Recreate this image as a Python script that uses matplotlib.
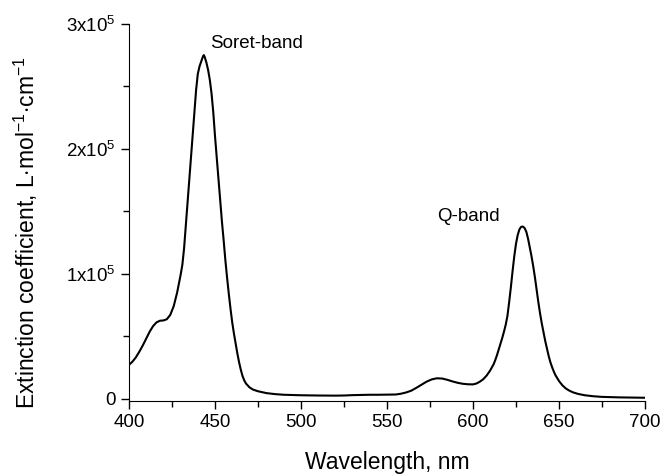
import matplotlib
matplotlib.use("Agg")
import matplotlib.pyplot as plt
from matplotlib.ticker import MultipleLocator, FuncFormatter

plt.rcParams['font.family'] = ['Liberation Sans', 'DejaVu Sans']
plt.rcParams['mathtext.fontset'] = 'custom'
plt.rcParams['mathtext.rm'] = 'Liberation Sans'
plt.rcParams['mathtext.it'] = 'Liberation Sans:italic'

wavelength = [400, 402, 404, 406, 408, 410, 412, 414, 416, 418, 420, 422, 424, 426, 428, 430,
              431, 432, 433, 434, 435, 436, 437, 438, 439, 440, 441, 442, 443, 443.5,
              444, 445, 446, 447, 448, 449, 450, 451, 452, 453, 454, 455, 456, 457, 458, 459,
              460, 461, 462, 463, 464, 465, 466, 467, 468, 470, 472, 475, 480, 485, 490, 500,
              510, 520, 525, 530, 540, 545, 550, 555, 558, 561, 564, 567, 570, 573, 576, 579,
              582, 585, 588, 591, 594, 597, 600, 602, 604, 606, 608, 610, 612, 613, 614, 615,
              616, 617, 618, 619, 620, 621, 622, 623, 624, 625, 626, 627, 628, 629, 630, 631,
              632, 633, 634, 635, 636, 637, 638, 639, 640, 641, 642, 643, 644, 645, 646, 647,
              648, 650, 652, 654, 656, 658, 661, 665, 670, 675, 685, 700]
extinction = [27000, 29500, 33000, 37500, 42500, 48000, 53500, 58000, 61000, 62300, 62500,
              63500, 67000, 74000, 85000, 99000,
              107000, 120000, 138000, 157000, 175000, 193000, 211000, 229000, 247000, 260000,
              266000, 270000, 274000, 275000,
              273500, 269000, 263000, 255000, 244000, 229000, 210000, 193000, 175000, 158000,
              142000, 127000, 111000, 97000, 84000, 72000,
              61000, 52000, 44000, 36000, 29000, 23000, 18000, 14500, 12000, 9000, 7200, 5800,
              4300, 3500, 3000, 2600,
              2400, 2300, 2400, 2700, 3000, 3000, 3100, 3200, 3800, 4800, 6200, 8500, 11000,
              13500, 15300, 16200,
              16000, 15000, 13700, 12600, 11800, 11400, 11300, 12000, 13500, 15500, 18500,
              22500, 27500, 31000, 35000, 39500,
              44000, 48500, 53500, 59000, 66000, 77000, 89000, 102000, 114000, 124000, 131000,
              135500, 137500, 137700, 136500, 133500,
              128000, 121000, 114000, 106000, 97000, 87000, 77000, 68000, 60000, 53000, 46000,
              40000, 34000, 29000, 25000, 21500,
              18500, 14000, 10500, 8000, 6300, 5000, 3700, 2600, 1800, 1300, 900, 600]

annotations = [("Soret-band", 447, 2.84e5), ("Q-band", 579, 1.46e5)]

fig = plt.figure(figsize=(6.64, 4.74), dpi=100)
ax = fig.add_axes([0.1943, 0.154, 0.7771, 0.7956])
ax.plot(wavelength, extinction, color='black', lw=1.5)

ax.set_xlim(400, 700)
ax.set_ylim(-2000, 3e5)
ax.spines['top'].set_visible(False)
ax.spines['right'].set_visible(False)
ax.xaxis.set_major_locator(MultipleLocator(50))
ax.xaxis.set_minor_locator(MultipleLocator(25))
ax.yaxis.set_major_locator(MultipleLocator(1e5))
ax.yaxis.set_minor_locator(MultipleLocator(0.5e5))

def yfmt(v, pos):
    n = int(round(v / 1e5))
    if n == 0:
        return "0"
    return r"%dx10$^{5}$" % n

ax.yaxis.set_major_formatter(FuncFormatter(yfmt))
ax.tick_params(which='major', direction='out', length=6, width=1, labelsize=13.5)
ax.tick_params(which='minor', direction='out', length=4, width=1)
ax.set_xlabel("Wavelength, nm", fontsize=16.5, labelpad=14)
ax.set_ylabel(r"Extinction coefficient, L$\cdot$mol$^{-1}$$\cdot$cm$^{-1}$", fontsize=16.5)
ax.yaxis.set_label_coords(-0.172, 0.446)

for txt, x, y in annotations:
    ax.text(x, y, txt, fontsize=13.5, ha='left', va='center')

fig.savefig("out.png", dpi=100)
